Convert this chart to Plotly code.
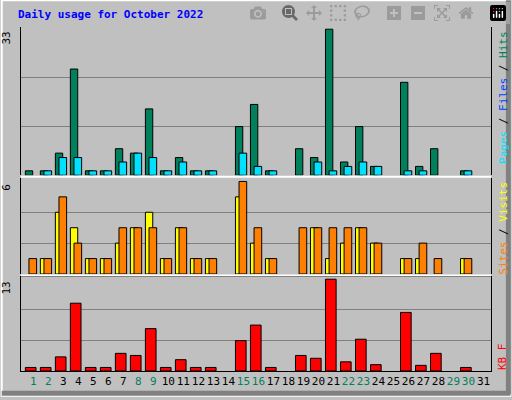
import plotly.graph_objects as go

days = list(range(1, 32))
hits = [1, 1, 5, 24, 1, 1, 6, 5, 15, 1, 4, 1, 1, 0, 11, 16, 1, 0, 6, 4, 33, 3, 11, 2, 0, 21, 2, 6, 0, 1, 0]
pages = [0, 1, 4, 4, 1, 1, 3, 5, 4, 1, 3, 1, 1, 0, 5, 2, 1, 0, 0, 3, 1, 2, 3, 2, 0, 1, 1, 0, 0, 1, 0]
visits = [0, 1, 4, 3, 1, 1, 2, 3, 4, 1, 3, 1, 1, 0, 5, 2, 1, 0, 0, 3, 1, 2, 3, 2, 0, 1, 1, 0, 0, 1, 0]
sites = [1, 1, 5, 2, 1, 1, 3, 3, 3, 1, 3, 1, 1, 0, 6, 3, 1, 0, 3, 3, 3, 3, 3, 2, 0, 1, 2, 1, 0, 1, 0]
kbytes = [0.5, 0.5, 2.0, 9.6, 0.5, 0.5, 2.5, 2.2, 6.0, 0.5, 1.6, 0.5, 0.5, 0, 4.3, 6.5, 0.5, 0,
          2.2, 1.8, 13, 1.3, 4.5, 0.9, 0, 8.3, 0.8, 2.5, 0, 0.5, 0]
weekend = [1, 2, 8, 9, 15, 16, 22, 23, 29, 30]

mono = "DejaVu Sans Mono"
fig = go.Figure()
line = dict(color="black", width=1)

def bars(vals, color, offset, width, axis):
    # zero days draw no bar at all
    ys = [v if v else None for v in vals]
    fig.add_trace(go.Bar(x=days, y=ys, marker=dict(color=color, line=line),
                         offset=offset, width=width, xaxis="x", yaxis=axis))

bars(hits, "#00805C", -0.53, 0.49, "y")
bars(pages, "#00E0FF", -0.29, 0.51, "y")
bars(visits, "#FFFF00", -0.53, 0.49, "y2")
bars(sites, "#FF8000", -0.29, 0.51, "y2")
bars(kbytes, "#FF0000", -0.53, 0.71, "y3")

ticktext = [f'<span style="color:{"#00805C" if d in weekend else "black"}">{d}</span>' for d in days]

ax = dict(showticklabels=False, showline=True, linecolor="black", mirror=True,
          gridcolor="#808080", zeroline=False, fixedrange=True)
fig.update_layout(
    width=512, height=400, margin=dict(l=21, r=21, t=27, b=25),
    paper_bgcolor="#C0C0C0", plot_bgcolor="#C0C0C0",
    showlegend=False, barmode="overlay",
    font=dict(family=mono, size=11, color="black"),
    xaxis=dict(range=[0.18, 31.5], tickvals=days, ticktext=ticktext, tickangle=0,
               showgrid=False, showline=True, linecolor="black", mirror=True,
               ticks="", tickfont=dict(family=mono, size=11), anchor="y3"),
    yaxis=dict(ax, domain=[0.569, 1], range=[0, 33.5], tickvals=[11, 22]),
    yaxis2=dict(ax, domain=[0.282, 0.56], range=[0, 6.2], tickvals=[2, 4]),
    yaxis3=dict(ax, domain=[0, 0.273], range=[0, 13.3], tickvals=[4.3, 8.7]),
    title=dict(text="<b>Daily usage for October 2022</b>", x=0.035, y=0.975,
               xanchor="left", yanchor="top", font=dict(family=mono, size=11, color="#0000FF")),
)

anns = [("33", "y", 33), ("6", "y2", 6), ("13", "y3", 13)]
for txt, yr, v in anns:
    fig.add_annotation(text=txt, xref="paper", x=-0.012, yref=yr, y=v, xanchor="right",
                       yanchor="top", textangle=-90, showarrow=False, font=dict(family=mono, size=11))
right = [('<span style="color:#00E0FF">Pages</span> / <span style="color:#0040FF">Files</span>'
          ' / <span style="color:#00805C">Hits</span>', "y", 33),
         ('<span style="color:#FF8000">Sites</span> / <span style="color:#FFFF00">Visits</span>', "y2", 6.1),
         ('<span style="color:#FF0000">KB F</span>', "y3", 4.2)]
for txt, yr, v in right:
    fig.add_annotation(text=txt, xref="paper", x=1.008, yref=yr, y=v, xanchor="left",
                       yanchor="top", textangle=-90, showarrow=False, font=dict(family=mono, size=11))

# panel separators and bevel frame
for yy in [0.5645, 0.2775]:
    fig.add_shape(type="line", xref="paper", yref="paper", x0=0, x1=1, y0=yy, y1=yy,
                  line=dict(color="white", width=2))
fig.add_shape(type="rect", xref="paper", yref="paper", x0=-0.041, x1=1.041, y0=-0.072, y1=1.078,
              line=dict(color="white", width=2))
fig.add_shape(type="line", xref="paper", yref="paper", x0=1.037, x1=1.037, y0=-0.068, y1=1.078,
              line=dict(color="#808080", width=5))
fig.add_shape(type="line", xref="paper", yref="paper", x0=-0.041, x1=1.041, y0=-0.065, y1=-0.065,
              line=dict(color="#808080", width=5))

fig.write_html("out.html", post_script="document.body.style.margin='0';")
